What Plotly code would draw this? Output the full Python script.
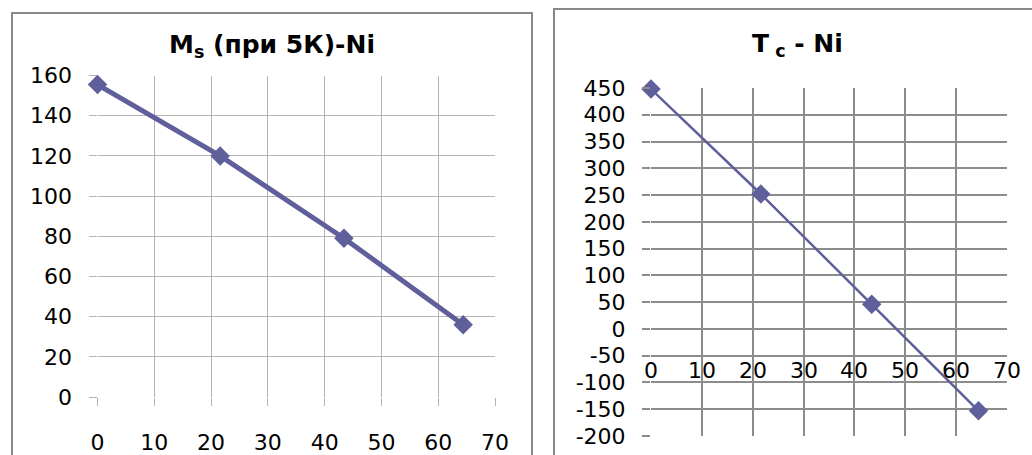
import plotly.graph_objects as go

# ---- data ----
ni_content = [0, 21.6, 43.4, 64.4]
ms_values = [155.5, 120, 79, 36]
tc_values = [448, 252, 46, -153]

x_ticks = [0, 10, 20, 30, 40, 50, 60, 70]
ms_ticks = [0, 20, 40, 60, 80, 100, 120, 140, 160]
tc_ticks = [-200, -150, -100, -50, 0, 50, 100, 150, 200, 250, 300, 350, 400, 450]
tc_tick_labels = [str(v) for v in tc_ticks]

title_left = "M<sub>s</sub> (при 5К)-Ni"
title_right = "T<sub> c</sub> - Ni"

W, H = 1032, 455
LINE = "#5f5f9b"
FONT = "DejaVu Sans"

def px_x(p):
    return p / W

def px_y(p):
    return 1 - p / H

fig = go.Figure()
fig.add_trace(go.Scatter(x=ni_content, y=ms_values, mode="lines+markers",
                         line=dict(color=LINE, width=5),
                         marker=dict(symbol="diamond", size=15, color=LINE),
                         cliponaxis=False,
                         xaxis="x", yaxis="y", showlegend=False))
fig.add_trace(go.Scatter(x=ni_content, y=tc_values, mode="lines+markers",
                         line=dict(color=LINE, width=2.5),
                         marker=dict(symbol="diamond", size=15, color=LINE),
                         cliponaxis=False,
                         xaxis="x2", yaxis="y2", showlegend=False))

tickfont = dict(family=FONT, size=22, color="#000000")

fig.update_layout(
    width=W, height=H, autosize=False,
    margin=dict(l=0, r=0, t=0, b=0, pad=0),
    paper_bgcolor="white", plot_bgcolor="white",
    xaxis=dict(domain=[px_x(97.5), px_x(495)], range=[0, 70], tickvals=x_ticks,
               showgrid=True, gridcolor="#b4b4b4", gridwidth=1,
               zeroline=False, showline=False, automargin=False,
               ticks="outside", ticklen=8, tickcolor="#b4b4b4",
               ticklabelstandoff=18, tickfont=tickfont, anchor="y", fixedrange=True),
    yaxis=dict(domain=[px_y(397), px_y(75.5)], range=[0, 160], tickvals=ms_ticks,
               showgrid=True, gridcolor="#b4b4b4", gridwidth=1,
               zeroline=False, showline=False, automargin=False,
               ticks="outside", ticklen=8, tickcolor="#b4b4b4",
               ticklabelstandoff=12, tickfont=tickfont, anchor="x", fixedrange=True),
    xaxis2=dict(domain=[px_x(651), px_x(1007)], range=[0, 70], tickvals=x_ticks,
                showgrid=True, gridcolor="#8c8c8c", gridwidth=2,
                zeroline=False, showline=False, showticklabels=False, automargin=False,
                anchor="y2", fixedrange=True),
    yaxis2=dict(domain=[px_y(436), px_y(88)], range=[-200, 450],
                tickvals=tc_ticks, ticktext=tc_tick_labels,
                showgrid=True, gridcolor="#8c8c8c", gridwidth=2,
                zeroline=False, showline=False, automargin=False,
                ticks="outside", ticklen=8, tickcolor="#8c8c8c", tickwidth=2,
                ticklabelstandoff=12, tickfont=tickfont, anchor="x2", fixedrange=True),
)

# right chart: horizontal-axis labels sit next to the axis crossing at y = 0
for t in x_ticks:
    fig.add_annotation(x=t, y=0, xref="x2", yref="y2", text=str(t), showarrow=False,
                       yanchor="top", xanchor="center", yshift=-27,
                       font=tickfont)

# titles
fig.add_annotation(x=px_x(272), y=px_y(46), xref="paper", yref="paper", text=title_left,
                   showarrow=False, xanchor="center", yanchor="middle",
                   font=dict(family=FONT, size=25, color="#000000", weight="bold"))
fig.add_annotation(x=px_x(797), y=px_y(45), xref="paper", yref="paper", text=title_right,
                   showarrow=False, xanchor="center", yanchor="middle",
                   font=dict(family=FONT, size=25, color="#000000", weight="bold"))

# chart frames
fig.add_shape(type="rect", xref="paper", yref="paper",
              x0=px_x(12), x1=px_x(532), y0=px_y(470), y1=px_y(13),
              line=dict(color="#878787", width=2), fillcolor="rgba(0,0,0,0)", layer="below")
fig.add_shape(type="rect", xref="paper", yref="paper",
              x0=px_x(554), x1=px_x(1045), y0=px_y(470), y1=px_y(9),
              line=dict(color="#878787", width=2), fillcolor="rgba(0,0,0,0)", layer="below")

fig.write_html("out.html", config={"displayModeBar": False},
               post_script="document.body.style.margin='0';document.body.style.overflow='hidden';")
